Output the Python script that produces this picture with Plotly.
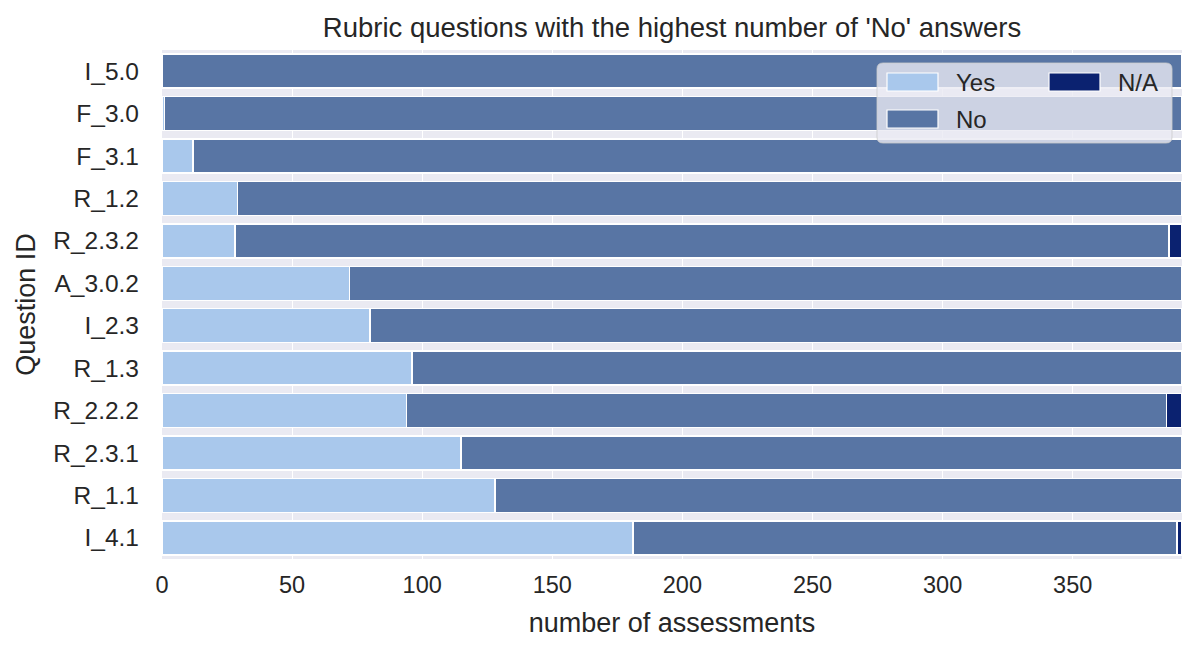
import plotly.graph_objects as go

# ---------------- data ----------------
questions = ["I_5.0", "F_3.0", "F_3.1", "R_1.2", "R_2.3.2", "A_3.0.2",
             "I_2.3", "R_1.3", "R_2.2.2", "R_2.3.1", "R_1.1", "I_4.1"]
yes_counts = [0, 1, 12, 29, 28, 72, 80, 96, 94, 115, 128, 181]
no_counts = [392, 391, 380, 363, 359, 320, 312, 296, 292, 277, 264, 209]
na_counts = [0, 0, 0, 0, 5, 0, 0, 0, 6, 0, 0, 2]
answer_labels = ["Yes", "No", "N/A"]
x_ticks = [0, 50, 100, 150, 200, 250, 300, 350]

title_text = "Rubric questions with the highest number of 'No' answers"
x_title = "number of assessments"
y_title = "Question ID"

# ---------------- style ----------------
colors = ["#A9C8EC", "#5875A4", "#0B2270"]
text_color = "#262626"
font_family = "Liberation Sans, Arial, sans-serif"
OFF = 8                      # page body margin of the html page
W, H = 1200 - OFF, 654 - OFF
# plot area in page pixels: x 162..1182, y 50..559
L, R, T, B = 162 - OFF, 1200 - 1182, 50 - OFF, 654 - 559

series = [yes_counts, no_counts, na_counts]
totals = [sum(v) for v in zip(*series)]
x_max = max(totals)

fig = go.Figure()
for name, vals, col in zip(answer_labels, series, colors):
    fig.add_trace(go.Bar(
        y=questions, x=vals, name=name, orientation="h",
        marker=dict(color=col, line=dict(color="white", width=1.5)),
        showlegend=False,
    ))

# ---------------- legend (drawn in the matplotlib style) ----------------
pw, ph = 1182 - 162, 559 - 50


def px(x):           # page pixel -> paper x
    return (x - 162) / pw


def py(y):           # page pixel -> paper y
    return (559 - y) / ph


def rounded_rect(x0, y0, x1, y1, r):
    rx, ry = r / pw, r / ph
    a, b, c, d = px(x0), py(y0), px(x1), py(y1)  # b top, d bottom
    return (f"M{a+rx},{b} L{c-rx},{b} Q{c},{b} {c},{b-ry} "
            f"L{c},{d+ry} Q{c},{d} {c-rx},{d} L{a+rx},{d} "
            f"Q{a},{d} {a},{d+ry} L{a},{b-ry} Q{a},{b} {a+rx},{b} Z")


shapes = [dict(type="path", xref="paper", yref="paper", layer="above",
               path=rounded_rect(877, 63, 1172, 143, 6),
               fillcolor="rgba(234,234,242,0.8)",
               line=dict(color="rgba(204,204,204,0.8)", width=1))]
annotations = []
legend_slots = [(887, 73, 954), (887, 110, 954), (1049, 73, 1116)]  # patch x, patch y, text x
for name, col, (lx, ly, tx) in zip(answer_labels, colors, legend_slots):
    shapes.append(dict(type="rect", xref="paper", yref="paper", layer="above",
                       x0=px(lx), x1=px(lx + 51), y0=py(ly + 18), y1=py(ly),
                       fillcolor=col, line=dict(color="white", width=1.2)))
    annotations.append(dict(xref="paper", yref="paper", x=px(tx), y=py(ly + 9.5),
                            xanchor="left", yanchor="middle", showarrow=False,
                            text=name, font=dict(size=24, color=text_color,
                                                 family=font_family)))

fig.update_layout(
    width=W, height=H,
    margin=dict(l=L, r=R, t=T, b=B),
    barmode="stack", bargap=0.2,
    paper_bgcolor="white", plot_bgcolor="#EAEAF2",
    font=dict(family=font_family, color=text_color, size=23.5),
    title=dict(text=title_text, x=px(672), xref="paper", xanchor="center",
               y=1 - (27 - OFF) / H, yref="container", yanchor="middle",
               font=dict(size=27.5, color=text_color, family=font_family)),
    xaxis=dict(range=[0, x_max], tickvals=x_ticks, showgrid=True,
               gridcolor="white", gridwidth=1.3, zeroline=False, showline=False,
               ticks="", ticklabelstandoff=9,
               tickfont=dict(size=23.5, color=text_color),
               title=dict(text=x_title, standoff=16,
                          font=dict(size=27, color=text_color))),
    yaxis=dict(categoryorder="array", categoryarray=questions,
               autorange="reversed", showgrid=True, gridcolor="white",
               zeroline=False, showline=False, ticks="", ticklabelstandoff=22,
               tickfont=dict(size=24.5, color=text_color),
               title=dict(text=y_title, standoff=9,
                          font=dict(size=27, color=text_color))),
    shapes=shapes,
    annotations=annotations,
)

fig.write_html("out.html")
